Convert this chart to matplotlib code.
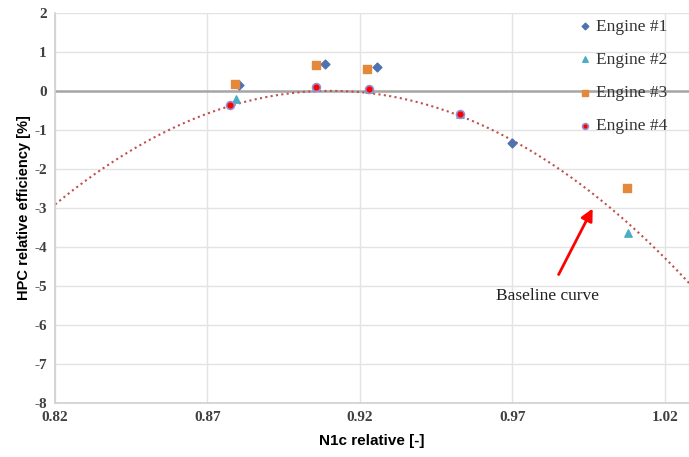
import matplotlib.pyplot as plt
import numpy as np

plt.rcParams['axes.unicode_minus'] = False

# engine data
e1_x = [0.8805, 0.9085, 0.9255, 0.970]
e1_y = [0.16, 0.68, 0.60, -1.33]
e2_x = [0.8795, 0.9055, 0.923, 0.953, 1.008]
e2_y = [-0.20, 0.10, 0.04, -0.60, -3.64]
e3_x = [0.8790, 0.9055, 0.9225, 1.0075]
e3_y = [0.18, 0.65, 0.57, -2.50]
e4_x = [0.8775, 0.9055, 0.923, 0.953]
e4_y = [-0.35, 0.10, 0.05, -0.60]

# baseline trend (2nd order): y = curv*(x-peak)^2
peak_x = 0.9104
curv = -356.0

xticks = [0.82, 0.87, 0.92, 0.97, 1.02]
yticks = list(range(-8, 3))

fig = plt.figure(figsize=(6.89, 4.57), dpi=100)
ax = fig.add_axes([0.080, 0.118, 0.920, 0.854])

for t in xticks:
    ax.axvline(t, color='#e3e3e3', lw=1.0, zorder=0)
for t in yticks:
    ax.axhline(t, color='#e3e3e3', lw=1.0, zorder=0)
ax.axhline(0, color='#a6a6a6', lw=1.8, zorder=1)

xs = np.linspace(0.82, 1.028, 200)
ax.plot(xs, curv * (xs - peak_x) ** 2, color='#c0504d', ls=(0, (1, 1.6)), lw=1.5, zorder=2)

ax.scatter(e1_x, e1_y, marker='D', s=20, color='#4f72b0', label='Engine #1', zorder=3)
ax.scatter(e2_x, e2_y, marker='^', s=28, color='#4bacc6', label='Engine #2', zorder=3)
ax.scatter(e3_x, e3_y, marker='s', s=28, color='#e4893b', label='Engine #3', zorder=3)
ax.scatter(e4_x, e4_y, marker='o', s=32, color='#ff0000', edgecolors='#9a8fd0', linewidths=1.2,
           label='Engine #4', zorder=4)

ax.annotate('', xy=(0.9968, -2.95), xytext=(0.9848, -4.77),
            arrowprops=dict(arrowstyle='-|>', color='#ff0000', lw=2, mutation_scale=18))
ax.text(0.9815, -5.25, 'Baseline curve', family='Liberation Serif', fontsize=12.5,
        ha='center', va='center', color='#222222')

ax.set_xlim(0.82, 1.028)
ax.set_ylim(-8, 2)
ax.set_xticks(xticks)
ax.set_xticklabels(['0.82', '0.87', '0.92', '0.97', '1.02'])
ax.set_yticks(yticks)
for lab in ax.get_xticklabels() + ax.get_yticklabels():
    lab.set_family('Liberation Serif')
    lab.set_fontweight('bold')
    lab.set_fontsize(11)
    lab.set_color('#404040')
ax.tick_params(length=0, pad=6)

for s in ['top', 'right']:
    ax.spines[s].set_visible(False)
for s in ['left', 'bottom']:
    ax.spines[s].set_color('#d0d0d0')
    ax.spines[s].set_linewidth(1.2)

ax.set_xlabel('N1c relative [-]', fontweight='bold', fontsize=11, family='Liberation Sans', labelpad=7)
ax.set_ylabel('HPC relative efficiency [%]', fontweight='bold', fontsize=10.5, family='Liberation Sans', labelpad=2)

leg = ax.legend(loc='upper right', bbox_to_anchor=(0.99, 1.025), frameon=False,
                prop={'family': 'Liberation Serif', 'size': 12.5}, handletextpad=0.1,
                labelspacing=0.98, markerscale=0.75, handlelength=1.0)
for t in leg.get_texts():
    t.set_color('#333333')

fig.savefig('out.png', dpi=100)
